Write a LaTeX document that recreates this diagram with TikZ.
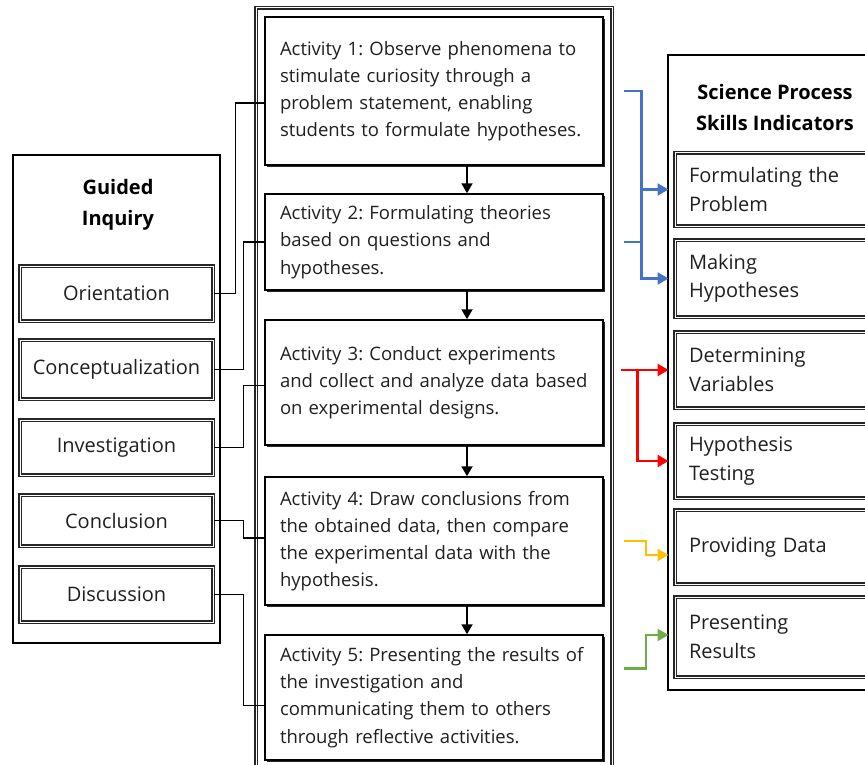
\documentclass[tikz,border=0pt]{standalone}
\usepackage{fontspec}
\setmainfont{Open Sans}
\frenchspacing
\usetikzlibrary{arrows.meta,shadows}
\definecolor{skillblue}{RGB}{68,114,196}
\definecolor{skillred}{RGB}{255,0,0}
\definecolor{skillyellow}{RGB}{255,192,0}
\definecolor{skillgreen}{RGB}{112,173,71}

\begin{document}
\begin{tikzpicture}[x=1pt,y=-1pt,
    every node/.style={font=\fontsize{18.5}{27.2}\selectfont,text=black!88},
    title/.style={font=\fontsize{20}{31}\selectfont\bfseries,text=black,align=center},
    frame/.style={draw,line width=2.6pt,inner sep=0pt},
    twin/.style={draw=white,line width=1pt,preaction={draw=black!85,line width=3.4pt}},
    item/.style={twin,minimum width=193pt,minimum height=55pt,inner sep=0pt,font=\fontsize{20}{28}\selectfont},
    skill/.style={twin,minimum width=200pt,minimum height=75pt,text width=172pt,align=left,inner sep=0pt,font=\fontsize{20}{28.5}\selectfont},
    act/.style={draw,fill=white,line width=1.5pt,general shadow={fill=black!85,shadow xshift=2.2pt,shadow yshift=-2.2pt},text width=308pt,align=left,inner xsep=15pt},
    link/.style={line width=1.9pt},
    flow/.style={line width=2pt,-{Triangle[length=10pt,width=11pt]}},
    pointer/.style={line width=2.3pt,-{Triangle[length=11pt,width=12pt]}}]
    \useasboundingbox (0,0) rectangle (865,765);
    \clip (0,0) rectangle (865,765);

    % three columns
    \node[frame,minimum width=207pt,minimum height=488pt] (inquiry) at (116.5,399) {};
    \node[twin,inner sep=0pt,minimum width=356pt,minimum height=767pt] (steps) at (434,391.5) {};
    \node[frame,minimum width=212pt,minimum height=635pt] (skills) at (774,372.5) {};

    \node[title] (inquirytitle) at (118,205) {Guided\\Inquiry};
    \node[title] (skilltitle) at (775,108) {Science Process\\Skills Indicators};

    % syntax of guided inquiry
    \node[item] (orient) at (116.5,293.5) {Orientation};
    \node[item,minimum height=59pt] (concept) at (116.5,369.5) {Conceptualization};
    \node[item] (invest) at (116.5,447.5) {Investigation};
    \node[item,minimum height=51pt] (concl) at (116.5,520.5) {Conclusion};
    \node[item] (discuss) at (116.5,594.5) {Discussion};

    % learning activities
    \node[act,minimum height=148pt] (act1) at (434,91) {Activity 1: Observe phenomena to\\stimulate curiosity through a\\problem statement, enabling\\students to formulate hypotheses.};
    \node[act,minimum height=96pt] (act2) at (434,242) {Activity 2: Formulating theories\\based on questions and\\hypotheses.};
    \node[act,minimum height=125pt] (act3) at (434,382.5) {Activity 3: Conduct experiments\\and collect and analyze data based\\on experimental designs.};
    \node[act,minimum height=128pt] (act4) at (434,541) {Activity 4: Draw conclusions from\\the obtained data, then compare\\the experimental data with the\\hypothesis.};
    \node[act,minimum height=125pt] (act5) at (434,697.5) {Activity 5: Presenting the results of\\the investigation and\\communicating them to others\\through reflective activities.};

    \foreach \a/\b in {act1/act2,act2/act3,act3/act4,act4/act5}
        \draw[flow] ([xshift=33pt]\a.south) -- ([xshift=33pt]\b.north);

    % science process skills
    \node[skill,minimum height=73pt] (formulate) at (775,189.5) {Formulating the\\Problem};
    \node[skill,minimum height=77pt] (hypothesize) at (775,278.5) {Making\\Hypotheses};
    \node[skill,minimum height=76pt] (variables) at (775,370) {Determining\\Variables};
    \node[skill,minimum height=74pt] (testing) at (775,461) {Hypothesis\\Testing};
    \node[skill,minimum height=74pt] (provide) at (775,547) {Providing Data};
    \node[skill,minimum height=80pt] (present) at (775,637) {Presenting\\Results};

    \draw[link] (orient.east) -- ++(22,0) |- ([yshift=-12pt]act1.west);
    \draw[link] (concept.east) -- ++(30,0) |- (act2.west);
    \draw[link] (invest.east) -- ++(30,0) |- ([yshift=-3pt]act3.west);
    \draw[link] (concl.east) -- ++(30,0) |- ([yshift=3pt]act4.west);
    \draw[link] (discuss.east) -- ++(30,0) |- ([yshift=-8pt]act5.west);

    \draw[skillblue,pointer] ([xshift=20pt]act1.east) -| ([xshift=-33pt]hypothesize.west) -- ([xshift=-6pt]hypothesize.west);
    \draw[skillblue,pointer] ([xshift=-33pt]formulate.west) -- ([xshift=-6pt]formulate.west);
    \draw[skillblue,line width=2.3pt] ([xshift=20pt]act2.east) -- ([xshift=-33pt]hypothesize.west |- act2.east);
    \draw[skillred,pointer] ([xshift=17pt]act3.east |- variables.west) -- ([xshift=-6pt]variables.west);
    \draw[skillred,pointer] ([xshift=-37pt]variables.west) |- ([xshift=-6pt]testing.west);
    \draw[skillyellow,pointer] ([xshift=20pt]act4.east) -- ++(22,0) |- ([xshift=-6pt,yshift=-8pt]provide.west);
    \draw[skillgreen,pointer] ([xshift=20pt,yshift=29pt]act5.east) -- ++(22,0) |- ([xshift=-6pt,yshift=2pt]present.west);
\end{tikzpicture}
\end{document}
